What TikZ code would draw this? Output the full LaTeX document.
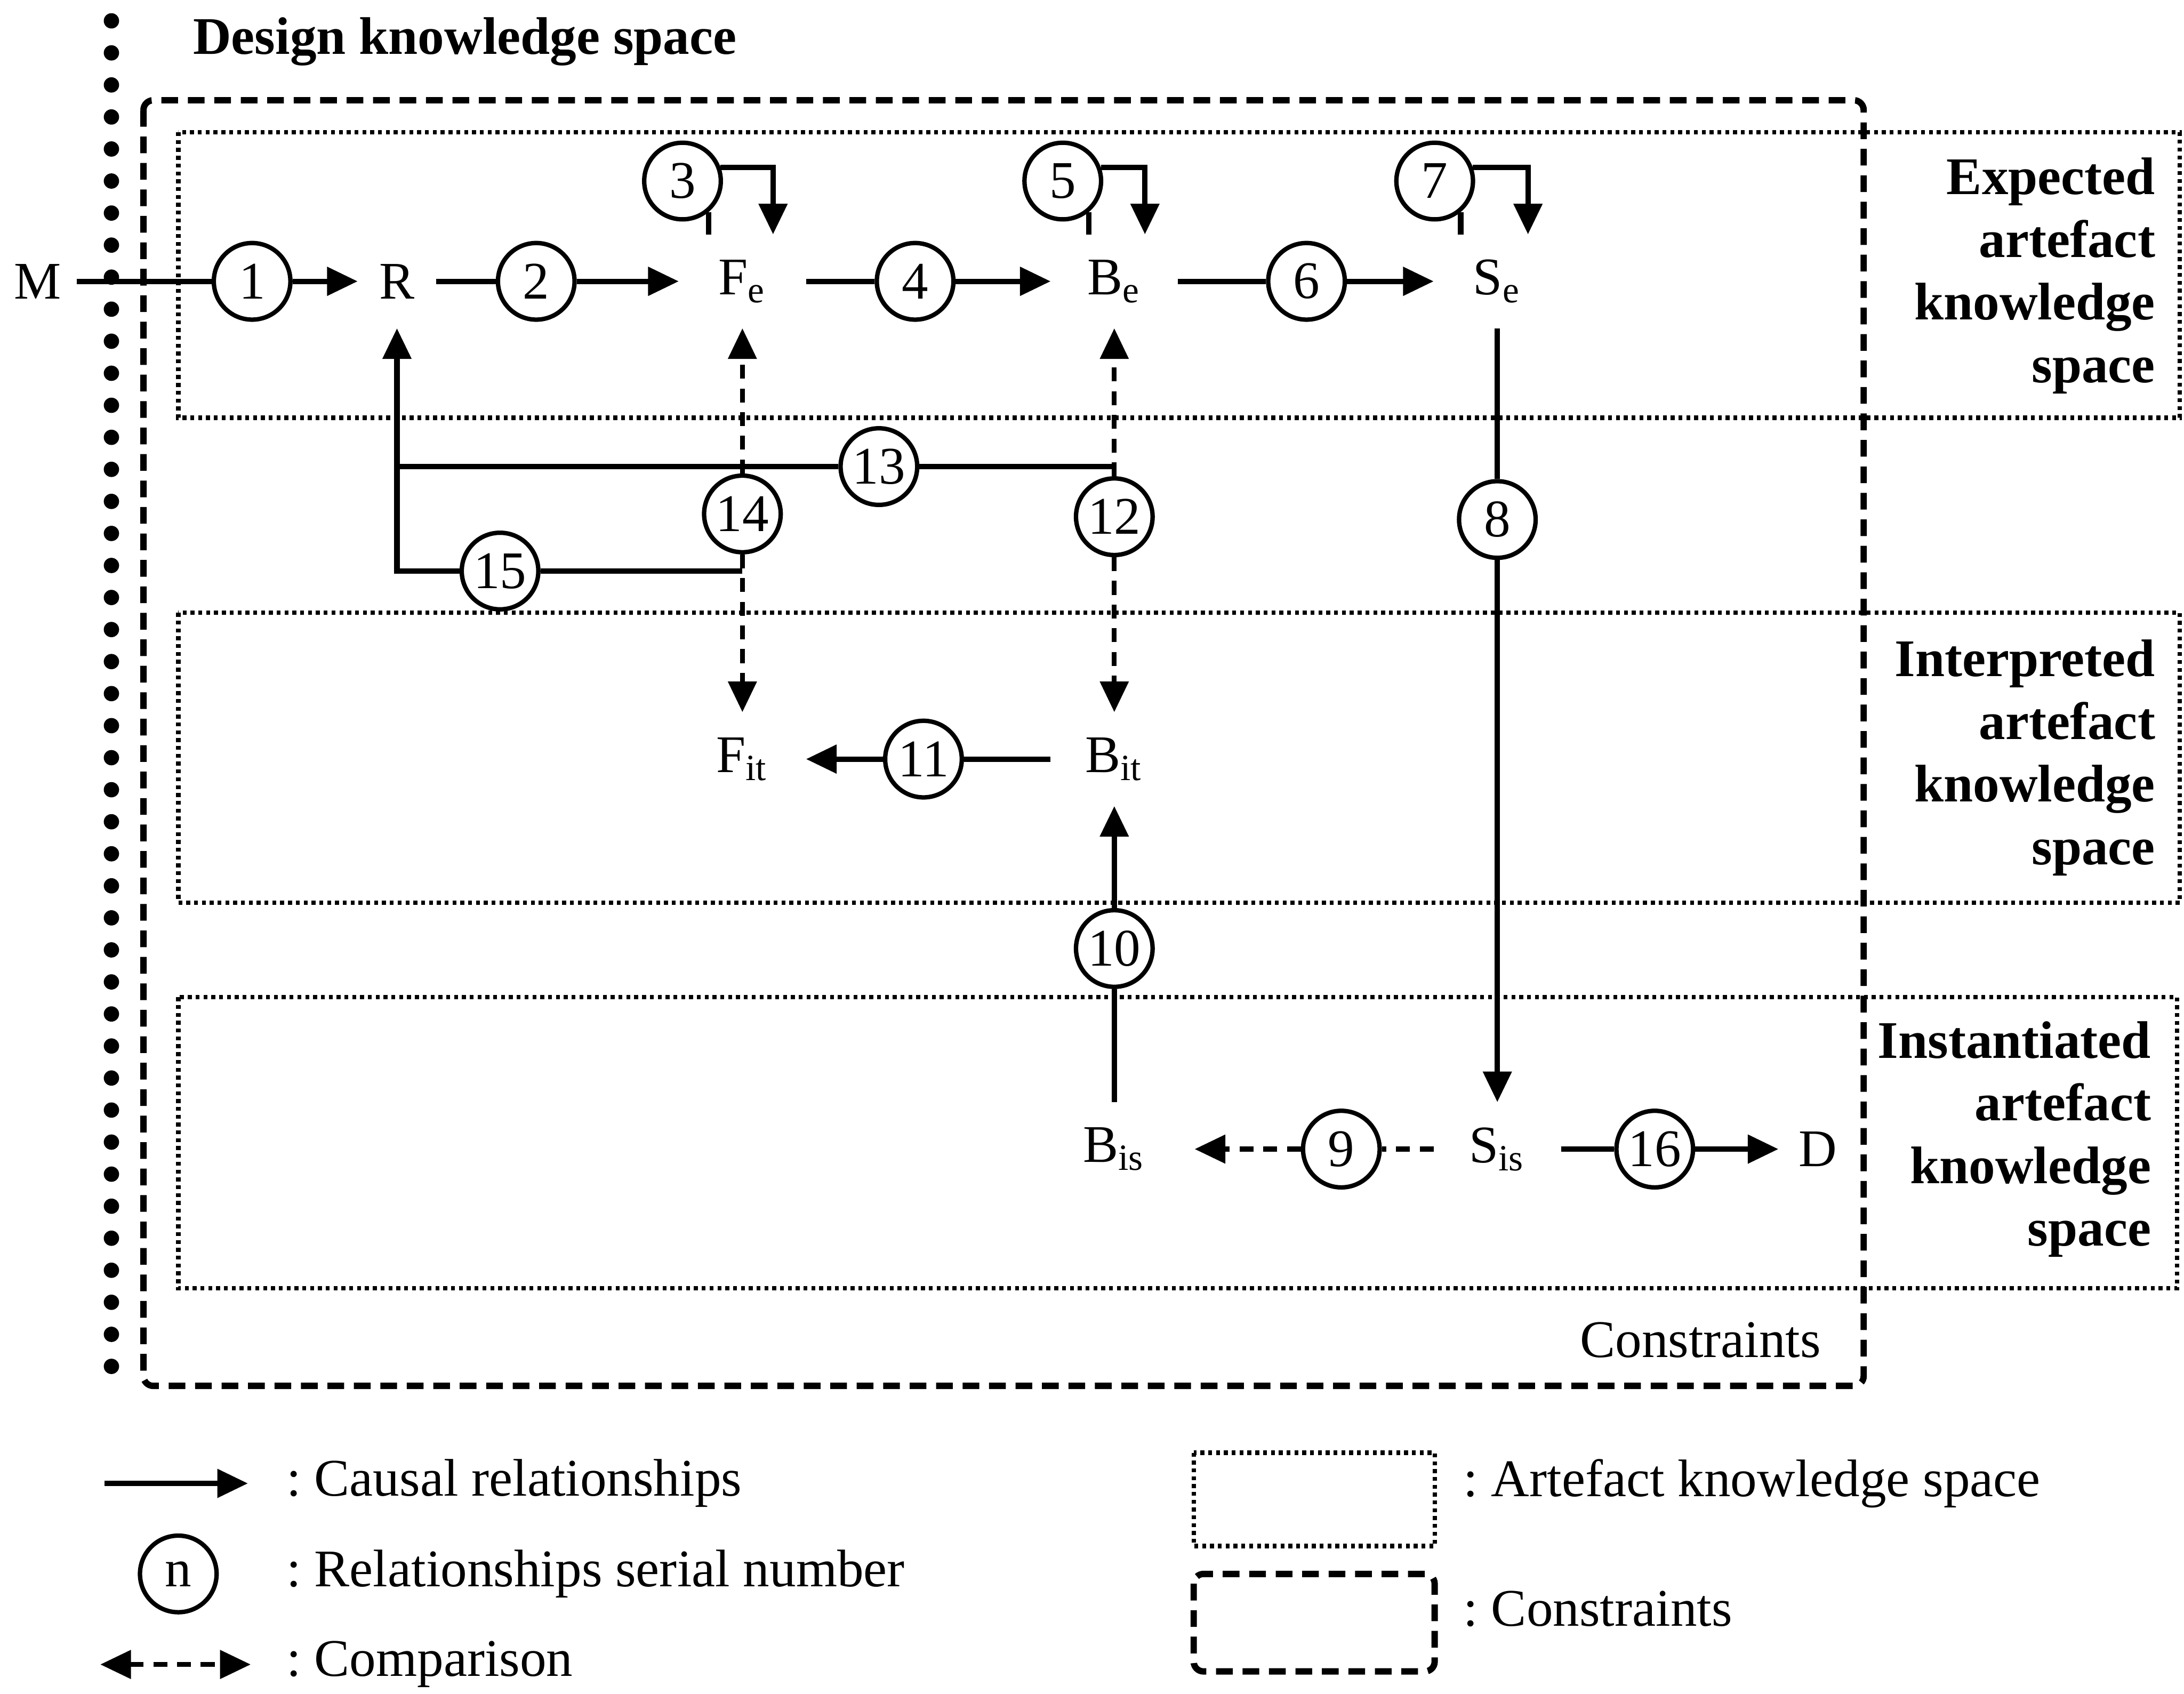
\documentclass[tikz,border=0pt]{standalone}
\usepackage{fontspec}
\setmainfont{Liberation Serif}
\usetikzlibrary{arrows.meta}
\newcommand{\figfont}{\fontsize{10.8}{12.8}\selectfont\frenchspacing}

\begin{document}
\begin{tikzpicture}[
  >={Triangle[length=0.22cm, width=0.2cm]},
  every node/.style={font=\figfont},
  var/.style={
    inner sep=0pt,
    minimum width=0.9cm, minimum height=0.66cm
  },
  letter/.style={
    inner sep=0pt,
    minimum width=0.55cm, minimum height=0.66cm
  },
  num/.style={
    circle, draw, line width=0.9pt,
    minimum size=0.55cm, inner sep=0pt
  },
  causal/.style={->, line width=1.1pt},
  link/.style={line width=1.1pt},
  compare/.style={
    line width=1pt,
    dash pattern=on 0.1cm off 0.07cm
  },
  akspace/.style={
    line width=0.9pt,
    dash pattern=on 0.8pt off 0.8pt
  },
  constraint/.style={
    line width=1.3pt, rounded corners=2pt,
    dash pattern=on 0.12cm off 0.07cm
  },
  title/.style={
    font=\figfont\bfseries, align=right
  },
  key/.style={anchor=west, inner sep=0pt}
]
  \useasboundingbox (0,0) rectangle (15.68,12.16);

  % Knowledge spaces and constraints
  \draw[line width=0.11cm, line cap=round,
    dash pattern=on 0pt off 0.23cm]
    (0.80,12.01) -- (0.80,2.21);
  \node[title, key] (design) at (1.38,11.86)
    {Design knowledge space};
  \draw[constraint] (1.03,11.44) rectangle (13.38,2.21);
  \node[anchor=east, inner sep=0pt] (cons) at (13.08,2.54)
    {Constraints};
  \draw[akspace] (1.28,11.21) rectangle (15.65,9.16);
  \draw[akspace] (1.28,7.76) rectangle (15.65,5.68);
  \draw[akspace] (1.28,5.00) rectangle (15.63,2.91);
  \node[title, anchor=east, inner sep=0pt] (expected)
    at (15.48,10.18)
    {Expected\\artefact\\knowledge\\space};
  \node[title, anchor=east, inner sep=0pt] (interpreted)
    at (15.48,6.72)
    {Interpreted\\artefact\\knowledge\\space};
  \node[title, anchor=east, inner sep=0pt] (instantiated)
    at (15.45,3.98)
    {Instantiated\\artefact\\knowledge\\space};

  % Expected row
  \node[letter] (M) at (0.27,10.14) {M};
  \node[num] (n1) at (1.81,10.14) {1};
  \node[letter] (R) at (2.85,10.14) {R};
  \node[num] (n2) at (3.85,10.14) {2};
  \node[var] (Fe) at (5.33,10.14) {F\textsubscript{e}};
  \node[num] (n4) at (6.57,10.14) {4};
  \node[var] (Be) at (8.00,10.14) {B\textsubscript{e}};
  \node[num] (n6) at (9.38,10.14) {6};
  \node[var] (Se) at (10.75,10.14) {S\textsubscript{e}};
  \node[num] (n3) at (4.90,10.86) {3};
  \node[num] (n5) at (7.63,10.86) {5};
  \node[num] (n7) at (10.30,10.86) {7};

  % Interpreted and instantiated rows
  \node[var] (Fit) at (5.33,6.71) {F\textsubscript{it}};
  \node[num] (n11) at (6.63,6.71) {11};
  \node[var] (Bit) at (8.00,6.71) {B\textsubscript{it}};
  \node[var] (Bis) at (8.00,3.91) {B\textsubscript{is}};
  \node[num] (n9) at (9.63,3.91) {9};
  \node[var] (Sis) at (10.75,3.91) {S\textsubscript{is}};
  \node[num] (n16) at (11.88,3.91) {16};
  \node[letter] (D) at (13.05,3.91) {D};

  % Numbers between the rows
  \node[num] (n13) at (6.31,8.81) {13};
  \node[num] (n14) at (5.33,8.47) {14};
  \node[num] (n12) at (8.00,8.45) {12};
  \node[num] (n8) at (10.75,8.43) {8};
  \node[num] (n15) at (3.59,8.06) {15};
  \node[num] (n10) at (8.00,5.35) {10};
  \coordinate (j13) at (R |- n13);
  \coordinate (j15) at (R |- n15);

  % Causal relationships
  \draw[causal] (M) -- (n1) -- (R);
  \draw[causal] (R) -- (n2) -- (Fe);
  \draw[causal] (Fe) -- (n4) -- (Be);
  \draw[causal] (Be) -- (n6) -- (Se);
  \draw[link] (n3.-50) -- (n3.-50 |- Fe.north);
  \draw[causal] (n3.20) -| ([xshift=0.22cm]Fe.north);
  \draw[link] (n5.-50) -- (n5.-50 |- Be.north);
  \draw[causal] (n5.20) -| ([xshift=0.22cm]Be.north);
  \draw[link] (n7.-50) -- (n7.-50 |- Se.north);
  \draw[causal] (n7.20) -| ([xshift=0.22cm]Se.north);
  \draw[causal] (Se) -- (n8) -- (Sis);
  \draw[causal] (Bis) -- (n10) -- (Bit);
  \draw[causal] (Bit) -- (n11) -- (Fit);
  \draw[causal] (Sis) -- (n16) -- (D);
  \draw[causal] (Be |- n13) -- (n13) -- (j13) -- (R);
  \draw[link] (Fe |- n15) -- (n15) -- (j15) -- (j13);

  % Comparisons
  \draw[compare, ->] (n14) -- (Fe);
  \draw[compare, ->] (n14) -- (Fit);
  \draw[compare, ->] (n12) -- (Be);
  \draw[compare, ->] (n12) -- (Bit);
  \draw[compare, ->, shorten >=0.12cm] (Sis) -- (n9) -- (Bis);

  % Legend
  \coordinate (cs) at (0.75,1.51);
  \coordinate (ce) at (1.78,1.51);
  \draw[causal] (cs) -- (ce);
  \node[key] (causalkey) at (2.05,1.51)
    {: Causal relationships};
  \node[num] (nkey) at (1.28,0.86) {n};
  \node[key] (numkey) at (2.05,0.86)
    {: Relationships serial number};
  \coordinate (ms) at (0.72,0.21);
  \coordinate (me) at (1.80,0.21);
  \draw[compare, <->] (ms) -- (me);
  \node[key] (compkey) at (2.05,0.21)
    {: Comparison};
  \draw[akspace] (8.57,1.73) rectangle (10.30,1.06);
  \node[key] (spacekey) at (10.50,1.51)
    {: Artefact knowledge space};
  \draw[constraint] (8.57,0.86) rectangle (10.30,0.16);
  \node[key] (limitkey) at (10.50,0.61)
    {: Constraints};
\end{tikzpicture}
\end{document}
